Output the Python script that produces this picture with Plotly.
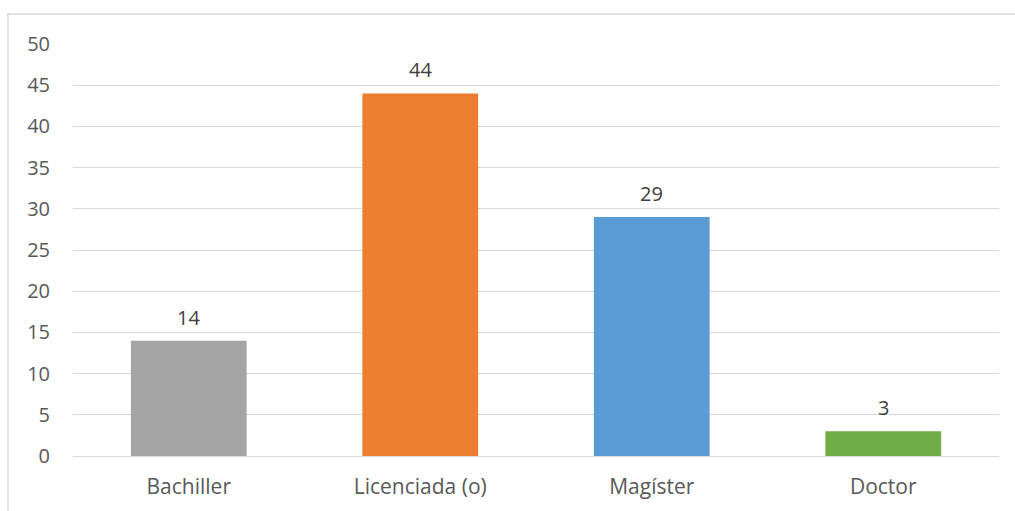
import plotly.graph_objects as go

categories = ["Bachiller", "Licenciada (o)", "Magíster", "Doctor"]
values = [14, 44, 29, 3]
colors = ["#A5A5A5", "#ED7D31", "#5B9BD5", "#70AD47"]
y_ticks = [0, 5, 10, 15, 20, 25, 30, 35, 40, 45, 50]

W, H = 1015, 511
ML, MR, MT, MB = 73, 16, 44, 55
pw, ph = W - ML - MR, H - MT - MB
FONT = "Open Sans, Noto Sans, sans-serif"

fig = go.Figure(
    go.Bar(
        x=categories,
        y=values,
        marker=dict(color=colors, line=dict(width=0)),
    )
)

# value labels above each bar
for c, v in zip(categories, values):
    fig.add_annotation(
        x=c, y=v, text=str(v), showarrow=False, yanchor="bottom", yshift=8,
        font=dict(family=FONT, size=20, color="#404040"),
    )

# outer chart frame
fig.add_shape(
    type="rect", xref="paper", yref="paper",
    x0=(8 - ML) / pw, x1=(W + 10 - ML) / pw,
    y0=-(H + 10 - MT - ph) / ph, y1=(MT + ph - 14) / ph,
    line=dict(color="#d9d9d9", width=1.5), fillcolor="rgba(0,0,0,0)", layer="below",
)

fig.update_layout(
    width=W, height=H,
    margin=dict(l=ML, r=MR, t=MT, b=MB),
    paper_bgcolor="white", plot_bgcolor="white",
    bargap=0.5,
    showlegend=False,
    font=dict(family=FONT, size=21, color="#595959"),
    xaxis=dict(showgrid=False, showline=False, ticks="", ticklabelstandoff=16,
               tickfont=dict(size=21, color="#595959")),
    yaxis=dict(
        range=[0, 50], tickvals=y_ticks, showgrid=True, gridcolor="#d9d9d9", gridwidth=1,
        zeroline=True, zerolinecolor="#d9d9d9", zerolinewidth=1, showline=False,
        ticks="", ticklabelstandoff=22, tickfont=dict(size=20, color="#595959"),
    ),
)

fig.write_html("out.html")
